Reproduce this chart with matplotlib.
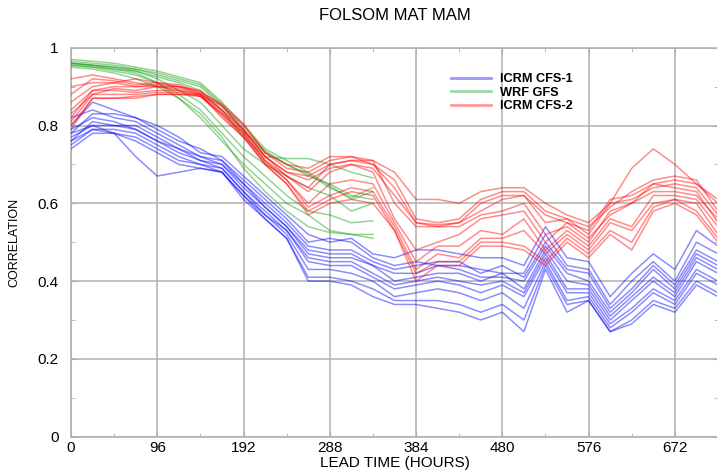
import matplotlib
matplotlib.use("Agg")
import matplotlib.pyplot as plt
from matplotlib.lines import Line2D
from matplotlib.ticker import MultipleLocator, FixedLocator, FuncFormatter

plt.rcParams['font.family'] = ['Liberation Sans', 'DejaVu Sans']

# lead times (hours)
lead_cfs = list(range(0, 721, 24))
lead_wrf = list(range(0, 337, 24))

# ICRM CFS-1 members
cfs1 = [
    [0.80,0.86,0.84,0.82,0.80,0.77,0.73,0.72,0.67,0.62,0.57,0.52,0.50,0.51,0.47,0.46,0.48,0.48,0.47,0.46,0.46,0.44,0.54,0.46,0.45,0.36,0.42,0.47,0.43,0.53,0.49],
    [0.78,0.83,0.83,0.82,0.79,0.76,0.74,0.71,0.66,0.61,0.56,0.50,0.51,0.50,0.46,0.44,0.45,0.44,0.44,0.43,0.42,0.42,0.52,0.44,0.43,0.34,0.40,0.45,0.40,0.50,0.47],
    [0.82,0.84,0.82,0.81,0.78,0.75,0.72,0.71,0.65,0.60,0.55,0.49,0.48,0.48,0.45,0.43,0.44,0.45,0.45,0.42,0.44,0.41,0.50,0.43,0.42,0.33,0.38,0.44,0.39,0.48,0.45],
    [0.76,0.81,0.80,0.80,0.77,0.74,0.72,0.70,0.65,0.59,0.54,0.48,0.47,0.47,0.44,0.42,0.42,0.44,0.43,0.41,0.41,0.40,0.49,0.42,0.40,0.32,0.37,0.43,0.38,0.47,0.44],
    [0.79,0.82,0.81,0.79,0.76,0.74,0.71,0.70,0.64,0.59,0.54,0.47,0.46,0.46,0.44,0.40,0.41,0.42,0.42,0.40,0.42,0.38,0.48,0.40,0.39,0.31,0.36,0.41,0.37,0.46,0.43],
    [0.77,0.80,0.80,0.79,0.76,0.73,0.71,0.69,0.63,0.58,0.53,0.46,0.45,0.45,0.42,0.39,0.40,0.41,0.40,0.39,0.40,0.37,0.47,0.38,0.38,0.30,0.35,0.40,0.36,0.45,0.42],
    [0.75,0.79,0.79,0.78,0.75,0.72,0.70,0.69,0.63,0.57,0.53,0.45,0.44,0.44,0.41,0.38,0.39,0.40,0.39,0.37,0.39,0.36,0.46,0.37,0.37,0.29,0.33,0.38,0.35,0.43,0.40],
    [0.74,0.78,0.78,0.77,0.74,0.71,0.70,0.68,0.62,0.57,0.52,0.43,0.43,0.42,0.40,0.36,0.37,0.38,0.37,0.35,0.37,0.33,0.45,0.35,0.36,0.28,0.32,0.37,0.34,0.42,0.39],
    [0.78,0.80,0.78,0.72,0.67,0.68,0.69,0.68,0.62,0.56,0.51,0.41,0.41,0.40,0.38,0.35,0.35,0.35,0.34,0.32,0.34,0.30,0.44,0.34,0.35,0.27,0.30,0.35,0.33,0.40,0.37],
    [0.76,0.79,0.78,0.76,0.73,0.70,0.69,0.68,0.61,0.56,0.51,0.40,0.40,0.39,0.36,0.34,0.34,0.33,0.32,0.30,0.32,0.27,0.43,0.32,0.35,0.27,0.29,0.34,0.32,0.39,0.36],
]

# WRF GFS members
wrf = [
    [0.97,0.965,0.96,0.95,0.94,0.925,0.91,0.86,0.80,0.74,0.71,0.68,0.645,0.61,0.63],
    [0.965,0.96,0.955,0.945,0.935,0.92,0.905,0.855,0.79,0.735,0.70,0.675,0.64,0.615,0.64],
    [0.96,0.955,0.95,0.945,0.93,0.915,0.90,0.85,0.785,0.73,0.70,0.67,0.65,0.62,0.61],
    [0.955,0.95,0.945,0.94,0.925,0.91,0.89,0.84,0.77,0.72,0.715,0.715,0.70,0.68,0.665],
    [0.96,0.955,0.95,0.94,0.92,0.89,0.86,0.80,0.74,0.70,0.67,0.64,0.62,0.58,0.60],
    [0.955,0.95,0.94,0.93,0.91,0.88,0.84,0.78,0.72,0.67,0.62,0.58,0.57,0.55,0.555],
    [0.95,0.945,0.935,0.92,0.90,0.87,0.83,0.77,0.69,0.63,0.58,0.54,0.525,0.52,0.51],
    [0.96,0.955,0.945,0.935,0.91,0.87,0.82,0.76,0.70,0.65,0.60,0.57,0.53,0.52,0.52],
]

# ICRM CFS-2 members
cfs2 = [
    [0.92,0.93,0.92,0.91,0.90,0.90,0.89,0.85,0.80,0.73,0.70,0.69,0.72,0.72,0.71,0.68,0.61,0.61,0.60,0.63,0.64,0.64,0.60,0.57,0.55,0.60,0.69,0.74,0.70,0.65,0.60],
    [0.90,0.91,0.91,0.92,0.91,0.905,0.885,0.855,0.805,0.73,0.69,0.68,0.71,0.72,0.70,0.66,0.56,0.55,0.56,0.61,0.63,0.63,0.58,0.56,0.54,0.59,0.63,0.66,0.67,0.66,0.58],
    [0.88,0.92,0.915,0.905,0.91,0.90,0.88,0.85,0.79,0.72,0.68,0.67,0.70,0.71,0.70,0.64,0.55,0.545,0.55,0.60,0.62,0.62,0.57,0.55,0.53,0.61,0.62,0.65,0.66,0.65,0.61],
    [0.86,0.90,0.91,0.90,0.905,0.90,0.885,0.84,0.79,0.72,0.68,0.66,0.69,0.70,0.69,0.62,0.55,0.54,0.55,0.58,0.61,0.62,0.55,0.56,0.52,0.60,0.61,0.64,0.65,0.64,0.57],
    [0.84,0.89,0.90,0.90,0.90,0.895,0.88,0.84,0.785,0.72,0.67,0.64,0.70,0.71,0.71,0.60,0.54,0.54,0.54,0.57,0.58,0.60,0.52,0.54,0.50,0.58,0.60,0.65,0.64,0.63,0.55],
    [0.83,0.88,0.895,0.89,0.90,0.89,0.88,0.835,0.78,0.71,0.67,0.63,0.68,0.70,0.68,0.56,0.48,0.50,0.52,0.56,0.57,0.58,0.50,0.55,0.51,0.57,0.60,0.63,0.63,0.62,0.56],
    [0.82,0.89,0.89,0.885,0.89,0.89,0.875,0.83,0.78,0.71,0.66,0.60,0.65,0.66,0.65,0.55,0.45,0.49,0.49,0.53,0.52,0.56,0.48,0.53,0.49,0.56,0.54,0.62,0.62,0.61,0.54],
    [0.81,0.88,0.88,0.88,0.885,0.885,0.875,0.83,0.775,0.705,0.66,0.59,0.62,0.64,0.63,0.54,0.43,0.47,0.46,0.51,0.51,0.53,0.47,0.52,0.48,0.55,0.53,0.60,0.61,0.60,0.52],
    [0.80,0.87,0.87,0.875,0.88,0.88,0.875,0.825,0.77,0.70,0.65,0.58,0.61,0.63,0.62,0.53,0.42,0.45,0.45,0.50,0.50,0.49,0.45,0.51,0.47,0.53,0.50,0.59,0.61,0.58,0.51],
    [0.79,0.87,0.87,0.87,0.88,0.88,0.88,0.82,0.77,0.70,0.65,0.57,0.60,0.61,0.60,0.53,0.40,0.44,0.44,0.49,0.49,0.48,0.44,0.50,0.46,0.52,0.48,0.58,0.60,0.57,0.50],
]

series_names = ["ICRM CFS-1", "WRF GFS", "ICRM CFS-2"]
x_ticks = [0, 96, 192, 288, 384, 480, 576, 672]
y_ticks = [0, 0.2, 0.4, 0.6, 0.8, 1]

BLUE = (0.0, 0.0, 1.0)
GREEN = (0.08, 0.62, 0.08)
RED = (1.0, 0.0, 0.0)

fig = plt.figure(figsize=(7.17, 4.74), dpi=100)
ax = fig.add_axes([71/717, 37.3/474, 647/717, 389/474])

for m in cfs1:
    ax.plot(lead_cfs, m, color=BLUE, alpha=0.45, lw=1.1, zorder=3)
for m in wrf:
    ax.plot(lead_wrf, m, color=GREEN, alpha=0.45, lw=1.1, zorder=3)
for m in cfs2:
    ax.plot(lead_cfs, m, color=RED, alpha=0.45, lw=1.1, zorder=3)

ax.set_xlim(0, 720)
ax.set_ylim(0, 1)
ax.xaxis.set_major_locator(FixedLocator(x_ticks))
ax.xaxis.set_minor_locator(MultipleLocator(48))
ax.yaxis.set_major_locator(FixedLocator(y_ticks))
ax.yaxis.set_minor_locator(MultipleLocator(0.1))
ax.yaxis.set_major_formatter(FuncFormatter(lambda v, p: ("%g" % v)))

ax.grid(True, which='major', color='#b0b0b0', lw=1.1, zorder=1)
for s in ax.spines.values():
    s.set_color('#b0b0b0')
    s.set_linewidth(1.1)
ax.tick_params(which='both', direction='in', top=True, right=True, colors='#b0b0b0',
               labelcolor='black', labelsize=11)
ax.tick_params(which='major', length=4)
ax.tick_params(which='minor', length=3)
ax.tick_params(axis='y', pad=9)
ax.tick_params(axis='x', pad=3)

ax.set_xlabel("LEAD TIME (HOURS)", fontsize=11, labelpad=1)
ax.set_ylabel("CORRELATION", fontsize=9, labelpad=12)
ax.set_title("FOLSOM MAT MAM", fontsize=12, pad=20)

handles = [Line2D([], [], color=c, alpha=0.4, lw=2) for c in (BLUE, GREEN, RED)]
leg = ax.legend(handles, series_names, loc='upper left', bbox_to_anchor=(368/647, 1 - 14/389),
                frameon=False, handlelength=3.2, handletextpad=0.7, labelspacing=0.12,
                prop={'weight': 'bold', 'size': 9.2})

fig.savefig("out.png", dpi=100)
